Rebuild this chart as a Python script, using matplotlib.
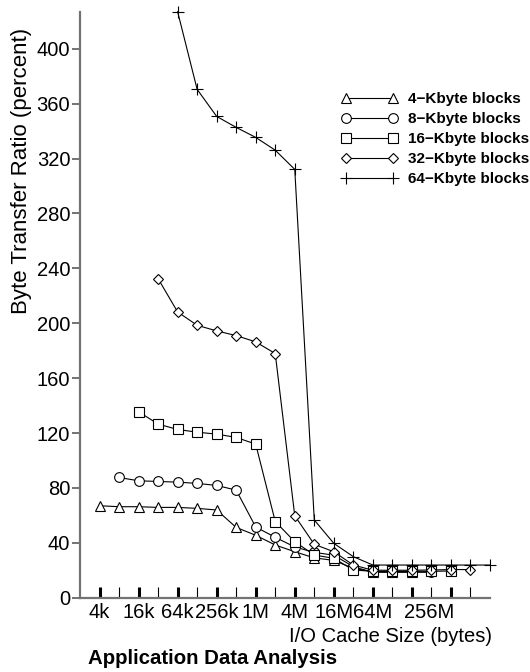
import matplotlib
matplotlib.use("Agg")
import matplotlib.pyplot as plt
import matplotlib.transforms as mtransforms

plt.rcParams['font.family'] = ['Liberation Sans', 'DejaVu Sans']

# ---------------- data ----------------
# I/O cache sizes (KB), 4 KB .. 4 GB
cache_kb = [4, 8, 16, 32, 64, 128, 256, 512, 1024, 2048, 4096, 8192, 16384,
            32768, 65536, 131072, 262144, 524288, 1048576, 2097152, 4194304]

block_labels = ["4\u2212Kbyte blocks", "8\u2212Kbyte blocks", "16\u2212Kbyte blocks",
                "32\u2212Kbyte blocks", "64\u2212Kbyte blocks"]
start_index = [0, 1, 2, 3, 4]   # each series starts at cache size == block size

ratio_4k = [67.0, 66.3, 66.3, 65.8, 65.8, 65.1, 63.9, 51.2, 45.5, 38.4, 33.5,
            29.0, 27.2, 21.4, 19.0, 19.0, 19.0]
ratio_8k = [87.6, 85.2, 84.7, 84.2, 83.3, 81.8, 78.4, 51.5, 44.0, 37.0, 33.0,
            31.0, 22.6, 18.5, 18.5, 18.5, 18.5]
ratio_16k = [135.5, 126.5, 122.6, 120.6, 119.2, 116.8, 111.9, 55.5, 40.8, 31.1,
             28.7, 20.2, 19.2, 19.2, 19.2, 19.2, 19.5]
ratio_32k = [232.5, 208.2, 198.5, 194.4, 191.0, 186.4, 177.9, 59.7, 38.9, 33.5,
             23.8, 20.0, 20.0, 20.0, 20.2, 20.5, 20.5]
ratio_64k = [427.0, 370.4, 350.7, 342.7, 335.4, 326.1, 312.1, 56.6, 39.6, 29.9,
             23.8, 23.8, 23.8, 23.8, 23.8, 23.8, 23.8]

series = [ratio_4k, ratio_8k, ratio_16k, ratio_32k, ratio_64k]
markers = ['^', 'o', 's', 'D', '+']
msizes = [7.5, 7, 7, 5.5, 8]

major_tick_kb = [4, 16, 64, 256, 1024, 4096, 16384, 65536, 262144, 1048576]
major_tick_labels = ["4k", "16k", "64k", "256k", "1M", "4M", "16M", "64M", "256M", ""]
minor_tick_kb = [8, 32, 128, 512, 2048, 8192, 32768, 131072, 524288, 2097152]
y_ticks = [0, 40, 80, 120, 160, 200, 240, 280, 320, 360, 400]

# ---------------- figure ----------------
W, H = 530, 672
fig = plt.figure(figsize=(W / 100, H / 100), dpi=100)
ax = fig.add_axes([80 / W, 1 - 597.7 / H, 410 / W, 586 / H])

for vals, s0, mk, ms, lab in zip(series, start_index, markers, msizes, block_labels):
    xs = [c * 1024 for c in cache_kb[s0:s0 + len(vals)]]
    ax.plot(xs, vals, color='black', lw=0.8, marker=mk, ms=ms,
            mfc='white' if mk != '+' else 'black', mec='black', mew=0.8,
            clip_on=False, label=lab)

ax.set_xscale('log', base=2)
ax.set_xlim(2 * 1024, 4 * 1024 ** 3)   # 2 KB .. 4 GB
ax.set_ylim(0, 427)

ax.set_xticks([k * 1024 for k in major_tick_kb])
ax.set_xticklabels(major_tick_labels)
ax.set_xticks([k * 1024 for k in minor_tick_kb], minor=True)
ax.xaxis.set_minor_formatter(plt.NullFormatter())
ax.set_yticks(y_ticks)
ax.set_yticklabels([str(v) for v in y_ticks])

for side in ['top', 'right']:
    ax.spines[side].set_visible(False)
for side in ['left', 'bottom']:
    ax.spines[side].set_color('0.45')
    ax.spines[side].set_linewidth(1.6)

ax.tick_params(axis='x', which='major', direction='in', length=8, width=2.2,
               color='black', labelsize=14.5, pad=4)
ax.tick_params(axis='x', which='minor', direction='in', length=8, width=0.8,
               color='black')
ax.tick_params(axis='y', which='major', direction='out', length=6, width=1.4,
               color='0.45', labelsize=14.5, pad=1)

# last tick label sits slightly right of its tick in the original
lbl = ax.xaxis.get_major_ticks()[8].label1
lbl.set_transform(lbl.get_transform() +
                  mtransforms.ScaledTranslation(17 / 100, 0, fig.dpi_scale_trans))

fig.text(22 / W, 1 - 171 / H, "Byte Transfer Ratio (percent)", rotation=90,
         ha='center', va='center', fontsize=16)
fig.text(492 / W, 1 - 636 / H, "I/O Cache Size (bytes)", ha='right',
         va='center', fontsize=14.5)
fig.text(88 / W, 1 - 658 / H, "Application Data Analysis", ha='left',
         va='center', fontsize=14.7, weight='bold')

ax.legend(loc='upper left', bbox_to_anchor=(341 / W, 1 - 92.3 / H),
          bbox_transform=fig.transFigure, frameon=False, numpoints=2,
          handlelength=3.7, handletextpad=0.7, labelspacing=0.39,
          borderpad=0, borderaxespad=0,
          prop=dict(weight='bold', size=11))

fig.savefig("out.png", dpi=100)
